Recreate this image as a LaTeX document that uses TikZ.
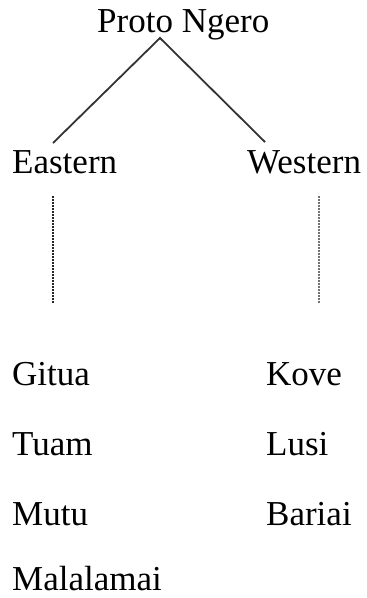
\documentclass[tikz,border=0pt]{standalone}
\usepackage{fontspec}
\setmainfont{Liberation Serif}
\begin{document}
\begin{tikzpicture}[x=1pt,y=-1pt,
  lbl/.style={inner sep=0pt,anchor=base west,font=\fontsize{35}{42}\selectfont},
  branch/.style={line width=1.8pt,draw=black!80},
  dots/.style={line width=2pt,dash pattern=on 2pt off 1pt}]
\useasboundingbox (0,0) rectangle (367,598);
\node[lbl] (proto) at (97,32) {Proto Ngero};
\node[lbl] (east) at (12,173) {Eastern};
\node[lbl] (west) at (247,173) {Western};
\coordinate (apex) at (160,38);
\coordinate (eend) at (53,143);
\coordinate (wend) at (265,142);
\draw[branch] (eend) -- (apex) -- (wend);
\coordinate (ed1) at (53,196);
\coordinate (ed2) at (53,303);
\coordinate (wd1) at (319,196);
\coordinate (wd2) at (319,303);
\draw[dots,draw=black!85] (ed1) -- (ed2);
\draw[dots,draw=black!55] (wd1) -- (wd2);
\node[lbl] (gitua) at (12,385) {Gitua};
\node[lbl] (tuam) at (12,455) {Tuam};
\node[lbl] (mutu) at (12,525) {Mutu};
\node[lbl] (mala) at (12,590) {Malalamai};
\node[lbl] (kove) at (266,385) {Kove};
\node[lbl] (lusi) at (266,455) {Lusi};
\node[lbl] (bariai) at (266,525) {Bariai};
\end{tikzpicture}
\end{document}
